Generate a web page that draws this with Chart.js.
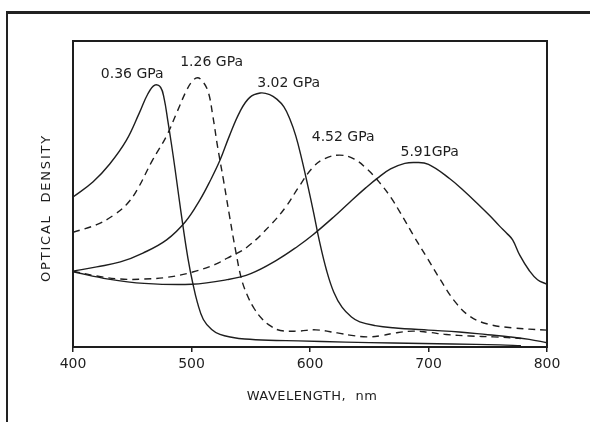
<!DOCTYPE html>
<html>
<head>
<meta charset="utf-8">
<script src="https://cdn.jsdelivr.net/npm/chart.js@4/dist/chart.umd.min.js"></script>
<style>
  html, body { margin: 0; padding: 0; background: #fff; }
  #wrap { position: relative; width: 590px; height: 422px; overflow: hidden; }
  #frame { position: absolute; left: 6px; top: 11px; width: 600px; height: 430px;
    border-top: 3px solid #222; border-left: 2px solid #222; }
  canvas { position: absolute; left: 0; top: 0; }
</style>
</head>
<body>
<div id="wrap">
  <div id="frame"></div>
  <canvas id="chart" width="590" height="422"></canvas>
</div>
<script>
// wavelength (nm) and optical density (arbitrary units, 0..1)
const wl036 = [400, 417, 431, 445, 456, 463, 469, 474, 477, 480, 483, 486, 489, 493, 497, 501, 505, 510, 517, 524, 535, 545, 565, 590, 630, 670, 720, 760, 778];
const od036 = [0.49, 0.54, 0.598, 0.675, 0.765, 0.826, 0.856, 0.848, 0.81, 0.74, 0.665, 0.585, 0.5, 0.39, 0.29, 0.21, 0.145, 0.09, 0.057, 0.041, 0.031, 0.026, 0.022, 0.02, 0.016, 0.013, 0.01, 0.007, 0.004];

const wl126 = [400, 420, 434, 445, 454, 467, 479, 488, 496, 501, 505, 509, 514, 518, 522, 527, 532, 537, 542, 547, 553, 560, 567, 575, 590, 605, 623, 635, 648, 660, 672, 687, 700, 715, 735, 755, 778];
const od126 = [0.375, 0.4, 0.43, 0.465, 0.513, 0.61, 0.69, 0.77, 0.84, 0.87, 0.88, 0.87, 0.835, 0.755, 0.655, 0.545, 0.43, 0.32, 0.225, 0.17, 0.125, 0.09, 0.068, 0.054, 0.052, 0.056, 0.046, 0.038, 0.033, 0.037, 0.046, 0.052, 0.048, 0.041, 0.036, 0.033, 0.028];

const wl302 = [400, 420, 440, 459, 479, 495, 507, 516, 524, 532, 541, 549, 558, 566, 572, 578, 583, 588, 593, 598, 603, 608, 614, 620, 627, 635, 642, 655, 670, 700, 726, 750, 769, 785, 800];
const od302 = [0.248, 0.262, 0.278, 0.307, 0.35, 0.41, 0.48, 0.545, 0.61, 0.69, 0.77, 0.815, 0.83, 0.825, 0.81, 0.785, 0.745, 0.69, 0.615, 0.53, 0.44, 0.345, 0.25, 0.18, 0.13, 0.098, 0.082, 0.07, 0.063, 0.055, 0.049, 0.04, 0.033, 0.025, 0.014];

const wl452 = [400, 420, 440, 460, 480, 501, 520, 530, 547, 567, 580, 590, 602, 612, 625, 637, 648, 659, 668, 676, 688, 699, 710, 722, 735, 750, 770, 800];
const od452 = [0.248, 0.232, 0.222, 0.222, 0.228, 0.245, 0.27, 0.29, 0.327, 0.4, 0.46, 0.52, 0.585, 0.615, 0.627, 0.615, 0.582, 0.536, 0.49, 0.44, 0.36, 0.29, 0.22, 0.15, 0.1, 0.075, 0.063, 0.055];

const wl591 = [400, 430, 460, 500, 530, 550, 572, 590, 602, 620, 634, 647, 657, 668, 680, 689, 700, 718, 730, 741, 752, 760, 766, 771, 777, 785, 792, 800];
const od591 = [0.246, 0.222, 0.208, 0.205, 0.22, 0.24, 0.284, 0.33, 0.365, 0.425, 0.475, 0.52, 0.552, 0.582, 0.6, 0.603, 0.597, 0.55, 0.51, 0.47, 0.428, 0.395, 0.372, 0.35, 0.3, 0.25, 0.22, 0.205];

// curve labels and where they sit (in data units)
const labelText = ["0.36 GPa", "1.26 GPa", "3.02 GPa", "4.52 GPa", "5.91GPa"];
const labelWl = [450, 517, 582, 628, 701];
const labelOd = [0.892, 0.931, 0.863, 0.686, 0.637];

const xTicks = [400, 500, 600, 700, 800];

const ink = "#1e1e1e";
const font = "DejaVu Sans";

function pts(xs, ys) {
  return xs.map((x, i) => ({ x: x, y: ys[i] }));
}

function line(xs, ys, dashed) {
  return {
    data: pts(xs, ys),
    borderColor: ink,
    borderWidth: 1.4,
    borderDash: dashed ? [7, 5] : [],
    pointRadius: 0,
    fill: false,
    tension: 0.4,
  };
}

const decorations = {
  id: "decorations",
  afterDatasetsDraw(chart) {
    const ctx = chart.ctx;
    const a = chart.chartArea;
    const xs = chart.scales.x;
    const ys = chart.scales.y;
    ctx.save();
    // plot box
    ctx.strokeStyle = ink;
    ctx.lineWidth = 2;
    ctx.strokeRect(a.left, a.top, a.right - a.left, a.bottom - a.top);

    ctx.fillStyle = ink;
    ctx.font = "14px '" + font + "'";
    ctx.textAlign = "center";
    ctx.textBaseline = "middle";
    for (let i = 0; i < labelText.length; i++) {
      ctx.fillText(labelText[i], xs.getPixelForValue(labelWl[i]), ys.getPixelForValue(labelOd[i]));
    }

    ctx.font = "13px '" + font + "'";
    ctx.letterSpacing = "0.5px";
    ctx.fillText("WAVELENGTH,  nm", (a.left + a.right) / 2 + 2, a.bottom + 50);

    ctx.translate(a.left - 26, (a.top + a.bottom) / 2 + 14);
    ctx.rotate(-Math.PI / 2);
    ctx.letterSpacing = "1.8px";
    ctx.fillText("OPTICAL  DENSITY", 0, 0);
    ctx.restore();
  },
};

new Chart(document.getElementById("chart"), {
  type: "line",
  data: {
    datasets: [
      line(wl036, od036, false),
      line(wl126, od126, true),
      line(wl302, od302, false),
      line(wl452, od452, true),
      line(wl591, od591, false),
    ],
  },
  options: {
    responsive: false,
    animation: false,
    layout: { padding: { left: 73, top: 41, right: 43, bottom: 0 } },
    plugins: { legend: { display: false }, tooltip: { enabled: false } },
    scales: {
      x: {
        type: "linear",
        min: 400,
        max: 800,
        afterBuildTicks: (s) => { s.ticks = xTicks.map((v) => ({ value: v })); },
        afterFit: (s) => { s.height = 75; },
        ticks: { color: ink, font: { family: font, size: 14 }, padding: 4 },
        grid: { drawOnChartArea: false, tickLength: 5, color: ink, lineWidth: 1.5 },
        border: { display: false },
      },
      y: {
        min: 0,
        max: 1,
        afterFit: (s) => { s.width = 0; },
        ticks: { display: false },
        grid: { display: false },
        border: { display: false },
      },
    },
  },
  plugins: [decorations],
});
</script>
</body>
</html>
